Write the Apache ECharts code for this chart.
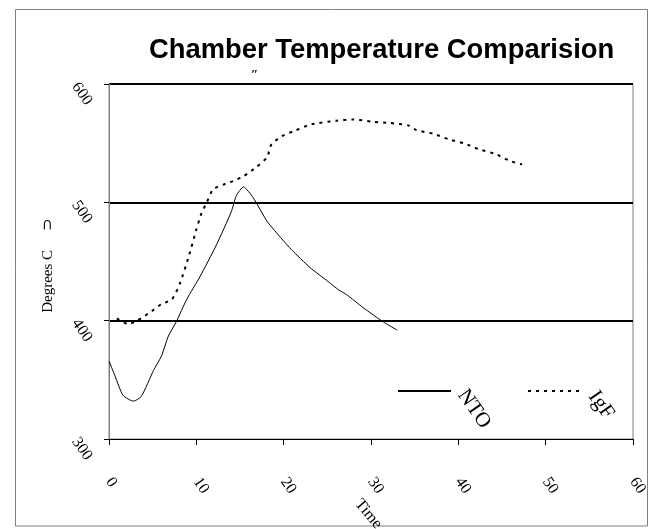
<!DOCTYPE html>
<html><head><meta charset="utf-8">
<script src="https://cdn.jsdelivr.net/npm/echarts@6/dist/echarts.min.js"></script>
<style>html,body{margin:0;padding:0;background:#fff}#c{width:656px;height:529px}</style>
</head><body><div id="c"></div>
<script>
const chartTitle = 'Chamber Temperature Comparision';
const xAxisName = 'Time';
const yAxisName = 'Degrees C\u2003 \u2283';
const seriesNames = ['NTO', 'IgF'];
const xTicks = [0, 10, 20, 30, 40, 50, 60];
const yTicks = [300, 400, 500, 600];
const ntoTime = [0, 0.7, 1.6, 2.8, 3.7, 5.1, 6.0, 6.8, 7.7, 8.9, 10.4, 12.3, 14.0, 14.6, 15.4, 16.5, 18.1, 19.8, 20.9, 23.0, 25.1, 26.3, 27.2, 29.1, 31.4, 33.0];
const ntoTemp = [366, 353, 337, 332, 336, 358, 370, 387, 399, 418, 437, 464, 492, 506, 513, 504, 484, 469, 460, 445, 433, 426, 422, 411, 399, 392];
const igfTime = [0.9, 2.2, 3.2, 4.9, 6.0, 7.2, 8.1, 9.2, 10.0, 10.6, 11.2, 11.9, 13.1, 14.2, 15.4, 16.9, 18.1, 18.6, 19.8, 21.1, 23.2, 26.1, 28.0, 30.3, 32.2, 34.3, 35.2, 37.1, 39.0, 40.6, 42.3, 44.2, 45.9, 47.3];
const igfTemp = [402, 397, 400, 408, 414, 418, 431, 456, 477, 491, 500, 511, 515, 518, 522, 530, 538, 549, 556, 560, 566, 569, 570, 568, 567, 565, 561, 558, 553, 550, 545, 541, 535, 532];

const serif = '"Liberation Serif", "Times New Roman", serif';
const deg = d => d * Math.PI / 180;
const pairs = (xs, ys) => xs.map((x, i) => [x, ys[i]]);
const chart = echarts.init(document.getElementById('c'));
const legendBase = { itemHeight: 10, padding: 0, itemGap: 0, formatter: () => '', selectedMode: false,
  itemStyle: { color: 'rgba(0,0,0,0)', borderWidth: 0, opacity: 0 } };
const option = {
  animation: false,
  backgroundColor: '#fff',
  title: {
    text: chartTitle, left: 144, top: 32,
    textStyle: { fontFamily: '"Liberation Sans", Arial, sans-serif', fontSize: 27.4, fontWeight: 'bold', color: '#000' }
  },
  grid: { left: 109, top: 84, width: 524, height: 355, show: true, borderColor: '#808080', borderWidth: 1,
    containLabel: false, outerBoundsMode: 'none' },
  xAxis: {
    type: 'value', min: xTicks[0], max: xTicks[xTicks.length - 1], interval: xTicks[1] - xTicks[0],
    name: xAxisName, nameLocation: 'middle', nameGap: 78, nameRotate: -50, nameMoveOverlap: false,
    nameTextStyle: { fontFamily: serif, fontSize: 16, color: '#000', align: 'center', verticalAlign: 'middle', padding: [0, 8, 0, 0] },
    axisLine: { lineStyle: { color: '#000', width: 1 } },
    axisTick: { show: true, length: 6, lineStyle: { color: '#000' } },
    axisLabel: { rotate: -55, margin: 40, align: 'left', verticalAlign: 'middle', fontFamily: serif, fontSize: 16, color: '#000' },
    splitLine: { show: false }
  },
  yAxis: {
    type: 'value', min: yTicks[0], max: yTicks[yTicks.length - 1], interval: yTicks[1] - yTicks[0],
    name: yAxisName, nameLocation: 'middle', nameGap: 53, nameRotate: 90, nameMoveOverlap: false,
    nameTextStyle: { fontFamily: serif, fontSize: 15, color: '#000', padding: [0, 8, 0, 0] },
    axisLine: { show: true, lineStyle: { color: '#808080', width: 1 } },
    axisTick: { show: true, length: 5, lineStyle: { color: '#000' } },
    axisLabel: { rotate: -55, margin: 34, align: 'left', verticalAlign: 'middle', fontFamily: serif, fontSize: 16, color: '#000' },
    splitLine: { show: true, lineStyle: { color: ['rgba(0,0,0,0)', '#000', '#000', '#000'], width: 2 } }
  },
  legend: [
    Object.assign({ data: [seriesNames[0]], left: 397, top: 386, itemWidth: 53 }, legendBase),
    Object.assign({ data: [seriesNames[1]], left: 527, top: 386, itemWidth: 56 }, legendBase)
  ],
  series: [
    { name: seriesNames[0], type: 'line', symbol: 'none', smooth: 0.2, data: pairs(ntoTime, ntoTemp),
      lineStyle: { color: '#000', width: 1 }, itemStyle: { color: '#000' } },
    { name: seriesNames[1], type: 'line', symbol: 'none', smooth: 0.2, data: pairs(igfTime, igfTemp),
      lineStyle: { color: '#000', width: 2, type: [3, 5] }, itemStyle: { color: '#000' } }
  ],
  graphic: [
    { type: 'rect', silent: true, z: -1, shape: { x: 15.5, y: 9.5, width: 632, height: 516.5 },
      style: { fill: 'none', stroke: '#808080', lineWidth: 1 } },
    { type: 'text', x: 474, y: 409, rotation: deg(-55),
      style: { text: seriesNames[0], font: '21px "Liberation Serif"', fill: '#000', textAlign: 'center', textVerticalAlign: 'middle', align: 'center', verticalAlign: 'middle' } },
    { type: 'text', x: 601, y: 405, rotation: deg(-55),
      style: { text: seriesNames[1], font: '21px "Liberation Serif"', fill: '#000', textAlign: 'center', textVerticalAlign: 'middle', align: 'center', verticalAlign: 'middle' } },
    { type: 'text', x: 251, y: 68,
      style: { text: '\u2033', font: 'bold 13px "Liberation Serif"', fill: '#000' } }
  ]
};
chart.setOption(option);
</script></body></html>
